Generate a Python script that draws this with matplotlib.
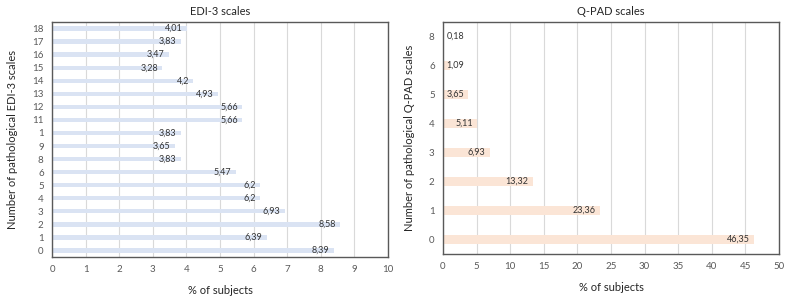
import numpy as np
import matplotlib.pyplot as plt

plt.rcParams['font.family'] = ['Lato', 'DejaVu Sans']

# EDI-3
edi_labels = ['0', '1', '2', '3', '4', '5', '6', '8', '9', '1', '11', '12', '13', '14', '15', '16', '17', '18']
edi_values = [8.39, 6.39, 8.58, 6.93, 6.2, 6.2, 5.47, 3.83, 3.65, 3.83, 5.66, 5.66, 4.93, 4.2, 3.28, 3.47, 3.83, 4.01]

# Q-PAD
qpad_labels = ['0', '1', '2', '3', '4', '5', '6', '8']
qpad_values = [46.35, 23.36, 13.32, 6.93, 5.11, 3.65, 1.09, 0.18]

tick_col = '#595959'
txt_col = '#333333'
AX_W = 336  # axes width in px


def fmt(v):
    s = ('%.2f' % v).rstrip('0').rstrip('.')
    return s.replace('.', ',')


def draw(ax, labels, values, color, xmax, step, title, ylab):
    y = np.arange(len(values))
    ax.barh(y, values, height=0.33, color=color, zorder=2)
    px_per_unit = AX_W / xmax
    for yi, v in zip(y, values):
        if v * px_per_unit < 26:
            # label too wide for the bar: put it at the base
            ax.annotate(fmt(v), (0, yi), xytext=(2.5, 0), textcoords='offset points',
                        ha='left', va='center', fontsize=6.5, color=txt_col, zorder=3)
        else:
            ax.annotate(fmt(v), (v, yi), xytext=(-3, 0), textcoords='offset points',
                        ha='right', va='center', fontsize=6.5, color=txt_col, zorder=3)
    ax.set_yticks(y)
    ax.set_yticklabels(labels)
    ax.set_ylim(-0.5, len(values) - 0.5)
    ax.set_xlim(0, xmax)
    ax.set_xticks(np.arange(0, xmax + step / 2, step))
    ax.grid(axis='x', color='#d9d9d9', linewidth=0.8, zorder=0)
    ax.tick_params(length=0, labelsize=7, colors=tick_col, pad=6)
    for s in ax.spines.values():
        s.set_color('#595959')
        s.set_linewidth(1.0)
    ax.set_title(title, fontsize=8, color='#262626', pad=5)
    ax.set_xlabel('% of subjects', fontsize=8, color='#262626', labelpad=8)
    ax.set_ylabel(ylab, fontsize=8, color='#262626', labelpad=10)


fig = plt.figure(figsize=(7.93, 2.98), dpi=100)
ax1 = fig.add_axes([52 / 793, 1 - 257 / 298, AX_W / 793, 235 / 298])
ax2 = fig.add_axes([443 / 793, 1 - 254 / 298, AX_W / 793, 232 / 298])

draw(ax1, edi_labels, edi_values, '#dae3f3', 10, 1, 'EDI-3 scales', 'Number of pathological EDI-3 scales')
draw(ax2, qpad_labels, qpad_values, '#fbe5d6', 50, 5, 'Q-PAD scales', 'Number of pathological Q-PAD scales')

fig.savefig('out.png', dpi=100)
